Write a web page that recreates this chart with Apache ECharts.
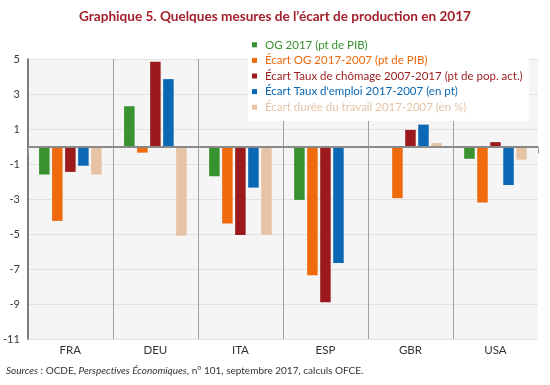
<!DOCTYPE html>
<html>
<head>
<meta charset="utf-8">
<script src="https://cdn.jsdelivr.net/npm/echarts@6/dist/echarts.min.js"></script>
<style>html,body{margin:0;padding:0;background:#fff}#c{width:550px;height:385px}</style>
</head>
<body>
<div id="c"></div>
<script>
var categories = ['FRA', 'DEU', 'ITA', 'ESP', 'GBR', 'USA'];
var seriesNames = [
  'OG 2017 (pt de PIB)',
  'Écart OG 2017-2007 (pt de PIB)',
  'Écart Taux de chômage 2007-2017 (pt de pop. act.)',
  "Écart Taux d'emploi 2017-2007 (en pt)",
  'Écart durée du travail 2017-2007 (en %)'
];
var og2017 = [-1.6, 2.3, -1.7, -3.05, null, -0.7];
var ecartOG = [-4.25, -0.35, -4.4, -7.35, -2.95, -3.2];
var chomage = [-1.45, 4.85, -5.05, -8.9, 0.95, 0.25];
var emploi = [-1.1, 3.85, -2.35, -6.65, 1.25, -2.2];
var duree = [-1.6, -5.1, -5.05, -0.1, 0.2, -0.75];
var yTicks = { min: -11, max: 5, interval: 2 };

var colors = ['#37922f', '#ee6a0c', '#9c1a1b', '#0a68b4', '#e5c3a4'];
var values = [og2017, ecartOG, chomage, emploi, duree];
var font = 'Lato, "Liberation Sans", sans-serif';

var chart = echarts.init(document.getElementById('c'), null, { renderer: 'canvas' });

var series = values.map(function (v, i) {
  var s = {
    name: seriesNames[i],
    type: 'bar',
    data: v,
    barWidth: 10.5,
    barGap: '24%',
    itemStyle: { color: colors[i] },
    silent: true
  };
  if (i === 0) {
    s.markLine = {
      silent: true,
      symbol: 'none',
      label: { show: false },
      lineStyle: { color: '#8a8a8a', width: 2, type: 'solid' },
      data: [{ yAxis: 0 }],
      z: 5
    };
  }
  return s;
});

chart.setOption({
  animation: false,
  color: colors,
  title: {
    text: 'Graphique 5. Quelques mesures de l\u2019écart de production en 2017',
    left: 'center',
    top: 5,
    textStyle: { fontFamily: font, fontSize: 13.6, fontWeight: 'bold', color: '#a3202c' }
  },
  legend: {
    orient: 'vertical',
    left: 248,
    top: 35,
    backgroundColor: '#ffffff',
    padding: [3, 6, 7, 4],
    itemWidth: 5,
    itemHeight: 5,
    itemGap: 2,
    icon: 'rect',
    selectedMode: false,
    z: 10,
    textStyle: { fontFamily: font, fontSize: 11.5, lineHeight: 13.6, padding: [0, 0, 0, 3] },
    data: seriesNames.map(function (n, i) {
      return { name: n, textStyle: { color: colors[i] } };
    })
  },
  grid: {
    left: 27,
    right: 12,
    top: 59,
    bottom: 46,
    show: true,
    backgroundColor: '#f5f5f5',
    borderWidth: 0
  },
  xAxis: {
    type: 'category',
    data: categories,
    axisLine: { show: false },
    axisTick: { show: true, interval: 0, length: 7, lineStyle: { color: '#9a9a9a' } },
    splitLine: { show: true, interval: 0, showMinLine: false, showMaxLine: false, lineStyle: { color: '#a0a0a0', width: 1 } },
    axisLabel: { fontFamily: font, fontSize: 11.5, color: '#333', margin: 5 }
  },
  yAxis: {
    type: 'value',
    min: yTicks.min,
    max: yTicks.max,
    interval: yTicks.interval,
    axisLine: { show: true, lineStyle: { color: '#555', width: 1.5 } },
    axisTick: { show: false },
    splitLine: { show: true, lineStyle: { color: '#e2e2e2', width: 1 } },
    axisLabel: { fontFamily: font, fontSize: 11, color: '#3a3a3a', margin: 8 }
  },
  graphic: [{
    type: 'text',
    left: 6,
    top: 366,
    style: {
      text: '{i|Sources} : OCDE, {i|Perspectives Économiques}, n° 101, septembre 2017, calculs OFCE.',
      fontFamily: font,
      fontSize: 10,
      fill: '#333',
      rich: { i: { fontStyle: 'italic', fontFamily: font, fontSize: 10, fill: '#333' } }
    }
  }],
  series: series
});
</script>
</body>
</html>
